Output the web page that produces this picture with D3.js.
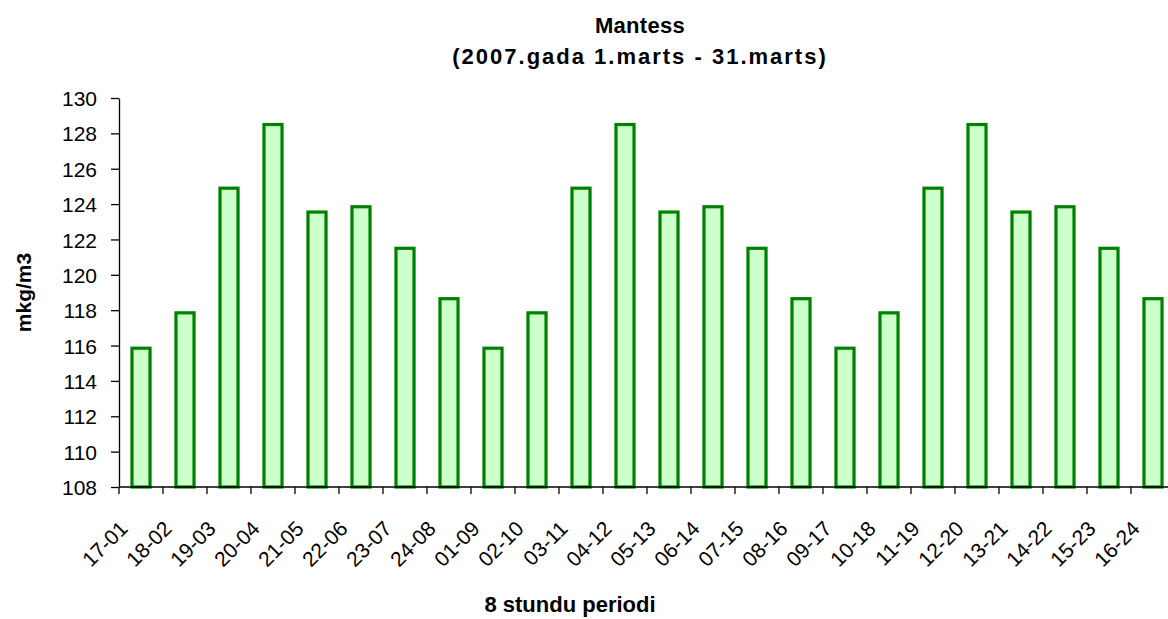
<!DOCTYPE html>
<html>
<head>
<meta charset="utf-8">
<script src="https://cdn.jsdelivr.net/npm/d3@7"></script>
<style>
  body { margin: 0; background: #fff; }
  svg { display: block; font-family: Arial, "Liberation Sans", sans-serif; }
  .axis path, .axis line { stroke: #000; stroke-width: 1.3; }
  .axis text { font-size: 21px; fill: #000; }
</style>
</head>
<body>
<div id="chart"></div>
<script>
// 8 hour periods and the measured values
const periods = ["17-01", "18-02", "19-03", "20-04", "21-05", "22-06", "23-07", "24-08",
                 "01-09", "02-10", "03-11", "04-12", "05-13", "06-14", "07-15", "08-16",
                 "09-17", "10-18", "11-19", "12-20", "13-21", "14-22", "15-23", "16-24"];
const values = [115.85, 117.85, 124.9, 128.5, 123.55, 123.85, 121.5, 118.65,
                115.85, 117.85, 124.9, 128.5, 123.55, 123.85, 121.5, 118.65,
                115.85, 117.85, 124.9, 128.5, 123.55, 123.85, 121.5, 118.65];
const yTicks = [108, 110, 112, 114, 116, 118, 120, 122, 124, 126, 128, 130];

const titleLines = ["Mantess", "(2007.gada 1.marts - 31.marts)"];
const xTitle = "8 stundu periodi";
const yTitle = "mkg/m3";

const width = 1168;
const height = 619;
const margin = { top: 98, right: -7, bottom: 132, left: 119 };

const svg = d3.select("#chart")
    .append("svg")
    .attr("width", width)
    .attr("height", height);

const x = d3.scaleBand()
    .domain(periods)
    .range([margin.left, width - margin.right])
    .paddingInner(0.59)
    .paddingOuter(0.295);

const y = d3.scaleLinear()
    .domain([108, 130])
    .range([height - margin.bottom, margin.top]);

// bars
svg.append("g")
    .selectAll("rect")
    .data(values)
    .enter()
    .append("rect")
    .attr("x", (d, i) => x(periods[i]))
    .attr("y", d => y(d))
    .attr("width", x.bandwidth())
    .attr("height", d => y(108) - y(d))
    .attr("fill", "#ccffcc")
    .attr("stroke", "#008000")
    .attr("stroke-width", 3.2);

// y axis
svg.append("g")
    .attr("class", "axis")
    .attr("transform", `translate(${margin.left}, 0)`)
    .call(d3.axisLeft(y).tickValues(yTicks).tickSize(8).tickPadding(14).tickSizeOuter(0))
    .selectAll("text")
    .attr("dy", "0.36em");

// x axis: ticks sit on the category boundaries
const step = x.step();
const xAxis = svg.append("g")
    .attr("class", "axis")
    .attr("transform", `translate(0, ${y(108)})`);

xAxis.append("line")
    .attr("x1", margin.left)
    .attr("x2", width - margin.right)
    .attr("y1", 0)
    .attr("y2", 0);

xAxis.selectAll(".tick")
    .data(periods)
    .enter()
    .append("line")
    .attr("x1", (d, i) => margin.left + i * step)
    .attr("x2", (d, i) => margin.left + i * step)
    .attr("y1", 0)
    .attr("y2", 7);

xAxis.selectAll(".label")
    .data(periods)
    .enter()
    .append("text")
    .attr("text-anchor", "end")
    .attr("transform", d => `translate(${x(d) + x.bandwidth() / 2 - 12}, 43) rotate(-45)`)
    .text(d => d);

// titles
svg.append("g")
    .selectAll("text")
    .data(titleLines)
    .enter()
    .append("text")
    .attr("x", 640)
    .attr("y", (d, i) => 33 + i * 31)
    .attr("text-anchor", "middle")
    .style("font-size", "22px")
    .style("font-weight", "bold")
    .style("letter-spacing", (d, i) => i ? "2px" : "0.3px")
    .text(d => d);

svg.append("text")
    .attr("x", 570)
    .attr("y", 612)
    .attr("text-anchor", "middle")
    .style("font-size", "22px")
    .style("font-weight", "bold")
    .text(xTitle);

svg.append("text")
    .attr("transform", `translate(31, ${y(119)}) rotate(-90)`)
    .attr("text-anchor", "middle")
    .style("font-size", "21px")
    .style("font-weight", "bold")
    .text(yTitle);
</script>
</body>
</html>
